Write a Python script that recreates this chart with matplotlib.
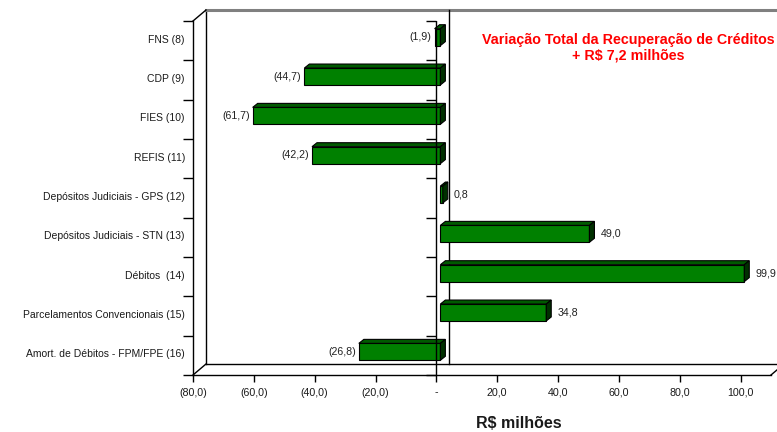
import numpy as np
import matplotlib
matplotlib.use("Agg")
import matplotlib.pyplot as plt
import matplotlib.transforms as mtransforms
from matplotlib.patches import Polygon
from matplotlib.lines import Line2D
from matplotlib.markers import TICKLEFT

plt.rcParams["font.family"] = ["Liberation Sans", "DejaVu Sans"]

categories = [
    "FNS (8)",
    "CDP (9)",
    "FIES (10)",
    "REFIS (11)",
    "Depósitos Judiciais - GPS (12)",
    "Depósitos Judiciais - STN (13)",
    "Débitos  (14)",
    "Parcelamentos Convencionais (15)",
    "Amort. de Débitos - FPM/FPE (16)",
]
values = [-1.9, -44.7, -61.7, -42.2, 0.8, 49.0, 99.9, 34.8, -26.8]
tick_values = [-80, -60, -40, -20, 0, 20, 40, 60, 80, 100]

FRONT = "#008000"
TOP = "#005a00"
SIDE = "#003000"

W, H = 777, 432
fig = plt.figure(figsize=(W / 100, H / 100), dpi=100)
left_px, right_px, top_px, bottom_px = 193, 771, 21, 375
ax = fig.add_axes([left_px / W, 1 - bottom_px / H,
                   (right_px - left_px) / W, (bottom_px - top_px) / H])
xmin, xmax = -80, 110
n = len(categories)
ax.set_xlim(xmin, xmax)
ax.set_ylim(n - 0.5, -0.5)
ax.patch.set_visible(False)

ax_w = right_px - left_px
ax_h = bottom_px - top_px
ux = ax_w / (xmax - xmin)   # pixels per value unit
uy = ax_h / n               # pixels per category


def shift(dx, dy):
    return mtransforms.Affine2D().translate(dx, dy)


# back wall and floor of the 3-D frame
wall_dx, wall_dy = 13, 11
wx, wy = wall_dx / ax_w, wall_dy / ax_h
ax.add_line(Line2D([wx, wx], [wy, 1 + wy], transform=ax.transAxes,
                   color="black", lw=1, clip_on=False, zorder=0))
ax.add_line(Line2D([wx, 1.2], [wy, wy], transform=ax.transAxes,
                   color="black", lw=1, clip_on=False, zorder=0))
ax.add_line(Line2D([wx, 1.2], [1 + wy, 1 + wy], transform=ax.transAxes,
                   color="#808080", lw=2.2, clip_on=False, zorder=0))
ax.add_line(Line2D([0, wx], [0, wy], transform=ax.transAxes,
                   color="black", lw=1, clip_on=False, zorder=0))
ax.add_line(Line2D([0, wx], [1, 1 + wy], transform=ax.transAxes,
                   color="black", lw=1, clip_on=False, zorder=0))
ax.add_line(Line2D([1, 1 + wx], [0, wy], transform=ax.transAxes,
                   color="black", lw=1, clip_on=False, zorder=0))
# zero line on the back wall
ax.plot([0, 0], [n - 0.5, -0.5], transform=ax.transData + shift(wall_dx, wall_dy),
        color="black", lw=1, clip_on=False, zorder=1)

# 3-D bars
pos = np.arange(n)
bh = 0.43
bar_dx, bar_dy = 4, 3.5
depth_x, depth_y = 5 / ux, 4 / uy
btrans = ax.transData + shift(bar_dx, bar_dy)
bars = ax.barh(pos, values, height=bh, color=FRONT, edgecolor="black",
               linewidth=0.8, zorder=3)
for patch in bars:
    patch.set_transform(btrans)
    patch.set_clip_on(False)

for y, v in zip(pos, values):
    x0, x1 = min(0, v), max(0, v)
    yt, yb = y - bh / 2, y + bh / 2
    top = Polygon([(x0, yt), (x1, yt), (x1 + depth_x, yt - depth_y), (x0 + depth_x, yt - depth_y)],
                  closed=True, facecolor=TOP, edgecolor="black", lw=0.8,
                  transform=btrans, clip_on=False, zorder=3)
    side = Polygon([(x1, yt), (x1, yb), (x1 + depth_x, yb - depth_y), (x1 + depth_x, yt - depth_y)],
                   closed=True, facecolor=SIDE, edgecolor="black", lw=0.8,
                   transform=btrans, clip_on=False, zorder=3)
    ax.add_patch(top)
    ax.add_patch(side)
    txt = f"{abs(v):.1f}".replace(".", ",")
    if v < 0:
        ax.text(v, y, f"({txt})", transform=ax.transData + shift(bar_dx - 3, bar_dy),
                ha="right", va="center", fontsize=7.7, color="#222222")
    else:
        ax.text(v, y, txt, transform=ax.transData + shift(bar_dx + 5 + 6, bar_dy),
                ha="left", va="center", fontsize=7.7, color="#222222")

# front zero axis with category separators
ax.axvline(0, color="black", lw=1, zorder=5)
bounds = np.arange(n + 1) - 0.5
ax.plot(np.zeros(n + 1), bounds, ls="none", marker=TICKLEFT, ms=7,
        mew=1, color="black", clip_on=False, zorder=5)

# axes spines and ticks
for s in ("top", "right"):
    ax.spines[s].set_visible(False)
for s in ("left", "bottom"):
    ax.spines[s].set_color("black")
    ax.spines[s].set_linewidth(1)

ax.set_yticks(pos)
ax.set_yticklabels(categories, fontsize=7.5, color="#1a1a1a")
ax.set_yticks(bounds, minor=True)
ax.tick_params(axis="y", which="major", length=0, pad=8)
ax.tick_params(axis="y", which="minor", length=7, width=1, color="black")
for lab in ax.get_yticklabels():
    lab.set_transform(lab.get_transform() + shift(3, 2))


def fmt(v):
    if v == 0:
        return "-"
    s = f"{abs(v):.1f}".replace(".", ",")
    return f"({s})" if v < 0 else s


ax.set_xticks(tick_values)
ax.set_xticklabels([fmt(v) for v in tick_values], fontsize=7.7, color="#1a1a1a")
ax.tick_params(axis="x", length=5, width=1, color="black", pad=4)

fig.text(519 / W, 1 - 423 / H, "R$ milhões", ha="center", va="center",
         fontsize=11.5, fontweight="bold", color="#1a1a1a")
fig.text(628 / W, 1 - 40 / H, "Variação Total da Recuperação de Créditos",
         ha="center", va="center", fontsize=10.3, fontweight="bold", color="#ff0000")
fig.text(628 / W, 1 - 56 / H, "+ R$ 7,2 milhões",
         ha="center", va="center", fontsize=10.3, fontweight="bold", color="#ff0000")

fig.savefig("out.png", dpi=100)
